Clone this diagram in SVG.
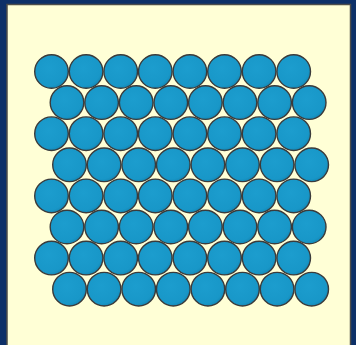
<svg xmlns="http://www.w3.org/2000/svg" width="356" height="345" viewBox="0 0 356 345">
<defs>
<radialGradient id="g" cx="0.42" cy="0.4" r="0.65">
<stop offset="0" stop-color="#1c9dce"/>
<stop offset="0.8" stop-color="#1897c8"/>
<stop offset="1" stop-color="#1283b0"/>
</radialGradient>
<style>
.ball{fill:url(#g);stroke:#3b3b3b;stroke-width:1.4}
</style>
</defs>
<rect x="0" y="0" width="356" height="345" fill="#0d3068"/>
<rect x="7" y="4.5" width="343.5" height="350" fill="#ffffd6" stroke="#4d4d4a" stroke-width="1.5"/>
<g id="row1">
<circle class="ball" cx="51.5" cy="71.5" r="16.8"/><circle class="ball" cx="86.1" cy="71.5" r="16.8"/><circle class="ball" cx="120.7" cy="71.5" r="16.8"/><circle class="ball" cx="155.3" cy="71.5" r="16.8"/><circle class="ball" cx="189.9" cy="71.5" r="16.8"/><circle class="ball" cx="224.5" cy="71.5" r="16.8"/><circle class="ball" cx="259.1" cy="71.5" r="16.8"/><circle class="ball" cx="293.7" cy="71.5" r="16.8"/>
</g>
<g id="row2">
<circle class="ball" cx="67" cy="102.6" r="16.8"/><circle class="ball" cx="101.6" cy="102.6" r="16.8"/><circle class="ball" cx="136.2" cy="102.6" r="16.8"/><circle class="ball" cx="170.8" cy="102.6" r="16.8"/><circle class="ball" cx="205.4" cy="102.6" r="16.8"/><circle class="ball" cx="240" cy="102.6" r="16.8"/><circle class="ball" cx="274.6" cy="102.6" r="16.8"/><circle class="ball" cx="309.2" cy="102.6" r="16.8"/>
</g>
<g id="row3">
<circle class="ball" cx="51.5" cy="133.7" r="16.8"/><circle class="ball" cx="86.1" cy="133.7" r="16.8"/><circle class="ball" cx="120.7" cy="133.7" r="16.8"/><circle class="ball" cx="155.3" cy="133.7" r="16.8"/><circle class="ball" cx="189.9" cy="133.7" r="16.8"/><circle class="ball" cx="224.5" cy="133.7" r="16.8"/><circle class="ball" cx="259.1" cy="133.7" r="16.8"/><circle class="ball" cx="293.7" cy="133.7" r="16.8"/>
</g>
<g id="row4">
<circle class="ball" cx="69.5" cy="164.8" r="16.8"/><circle class="ball" cx="104.1" cy="164.8" r="16.8"/><circle class="ball" cx="138.7" cy="164.8" r="16.8"/><circle class="ball" cx="173.3" cy="164.8" r="16.8"/><circle class="ball" cx="207.9" cy="164.8" r="16.8"/><circle class="ball" cx="242.5" cy="164.8" r="16.8"/><circle class="ball" cx="277.1" cy="164.8" r="16.8"/><circle class="ball" cx="311.7" cy="164.8" r="16.8"/>
</g>
<g id="row5">
<circle class="ball" cx="51.5" cy="195.9" r="16.8"/><circle class="ball" cx="86.1" cy="195.9" r="16.8"/><circle class="ball" cx="120.7" cy="195.9" r="16.8"/><circle class="ball" cx="155.3" cy="195.9" r="16.8"/><circle class="ball" cx="189.9" cy="195.9" r="16.8"/><circle class="ball" cx="224.5" cy="195.9" r="16.8"/><circle class="ball" cx="259.1" cy="195.9" r="16.8"/><circle class="ball" cx="293.7" cy="195.9" r="16.8"/>
</g>
<g id="row6">
<circle class="ball" cx="67" cy="227" r="16.8"/><circle class="ball" cx="101.6" cy="227" r="16.8"/><circle class="ball" cx="136.2" cy="227" r="16.8"/><circle class="ball" cx="170.8" cy="227" r="16.8"/><circle class="ball" cx="205.4" cy="227" r="16.8"/><circle class="ball" cx="240" cy="227" r="16.8"/><circle class="ball" cx="274.6" cy="227" r="16.8"/><circle class="ball" cx="309.2" cy="227" r="16.8"/>
</g>
<g id="row7">
<circle class="ball" cx="51.5" cy="258.1" r="16.8"/><circle class="ball" cx="86.1" cy="258.1" r="16.8"/><circle class="ball" cx="120.7" cy="258.1" r="16.8"/><circle class="ball" cx="155.3" cy="258.1" r="16.8"/><circle class="ball" cx="189.9" cy="258.1" r="16.8"/><circle class="ball" cx="224.5" cy="258.1" r="16.8"/><circle class="ball" cx="259.1" cy="258.1" r="16.8"/><circle class="ball" cx="293.7" cy="258.1" r="16.8"/>
</g>
<g id="row8">
<circle class="ball" cx="69.5" cy="289.2" r="16.8"/><circle class="ball" cx="104.1" cy="289.2" r="16.8"/><circle class="ball" cx="138.7" cy="289.2" r="16.8"/><circle class="ball" cx="173.3" cy="289.2" r="16.8"/><circle class="ball" cx="207.9" cy="289.2" r="16.8"/><circle class="ball" cx="242.5" cy="289.2" r="16.8"/><circle class="ball" cx="277.1" cy="289.2" r="16.8"/><circle class="ball" cx="311.7" cy="289.2" r="16.8"/>
</g>
</svg>
